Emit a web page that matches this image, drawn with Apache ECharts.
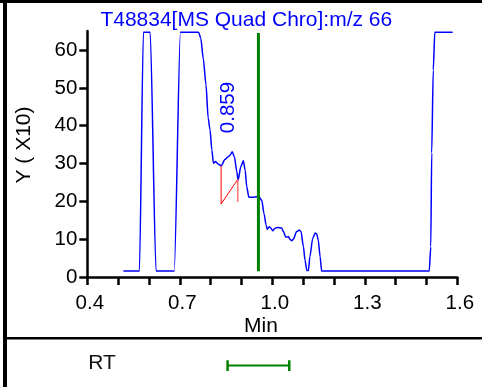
<!DOCTYPE html>
<html>
<head>
<meta charset="utf-8">
<script src="https://cdn.jsdelivr.net/npm/echarts@6/dist/echarts.min.js"></script>
<style>
  html, body { margin: 0; padding: 0; background: #fff; }
  #chart { width: 482px; height: 387px; }
</style>
</head>
<body>
<div id="chart"></div>
<script>
// Extracted ion chromatogram, m/z 66 (intensity in units of 10 counts)
const retentionTime = [
  0.517, 0.569, 0.582, 0.604, 0.623, 0.682, 0.702, 0.761, 0.768, 0.776,
  0.785, 0.792, 0.798, 0.804, 0.809, 0.816, 0.824, 0.834, 0.847, 0.857,
  0.863, 0.870, 0.877, 0.885, 0.889, 0.898, 0.906, 0.912, 0.917, 0.924,
  0.938, 0.949, 0.957, 0.966, 0.973, 0.980, 0.984, 0.990, 0.996, 1.001,
  1.009, 1.020, 1.031, 1.036, 1.044, 1.052, 1.057, 1.063, 1.068, 1.079,
  1.088, 1.093, 1.101, 1.106, 1.112, 1.117, 1.122, 1.131, 1.139, 1.144,
  1.149, 1.155, 1.160, 1.509, 1.514, 1.517, 1.522, 1.527, 1.585
];
const intensity = [
  1.6, 1.6, 64.7, 64.7, 1.6, 1.6, 64.7, 64.7, 63.1, 57.8,
  50.8, 42.0, 38.9, 33.6, 30.1, 30.5, 29.9, 29.4, 31.1, 31.8,
  32.2, 33.1, 31.8, 27.8, 25.6, 29.2, 30.7, 28.3, 23.9, 21.1,
  21.1, 21.2, 21.2, 20.2, 16.8, 13.7, 12.6, 13.3, 12.9, 12.2,
  12.9, 13.1, 12.9, 12.0, 10.5, 10.7, 10.0, 9.6, 10.0, 12.0,
  12.4, 12.0, 8.0, 4.5, 1.7, 1.7, 5.4, 10.2, 11.6, 11.4,
  9.8, 5.4, 1.6, 1.6, 8.0, 32.8, 54.7, 64.7, 64.7
];

// Integration: peak start / end on the trace, and the baseline under the peak
const peakStart = [0.834, 29.4];
const baselineStart = [0.834, 19.3];
const baselineEnd = [0.888, 25.8];
const peakEndFoot = [0.888, 19.9];
const peakApexRT = [0.859];

// Expected retention time and its window
const expectedRT = [0.955];
const rtWindow = [0.855, 1.055];
const markerRange = [1.5, 64.5];

// Axis ticks and labels
const xTicks = [0.4, 0.5, 0.6, 0.7, 0.8, 0.9, 1.0, 1.1, 1.2, 1.3, 1.4, 1.5, 1.6];
const xTickLabels = [0.4, 0.7, 1.0, 1.3, 1.6];
const yTickLabels = [0, 10, 20, 30, 40, 50, 60];

const FONT = "'Liberation Sans', Arial, Helvetica, sans-serif";
const BLUE = '#0000ff';
const GREEN = '#008000';

const trace = retentionTime.map((t, i) => [t, intensity[i]]);

const chart = echarts.init(document.getElementById('chart'), null, { renderer: 'canvas' });

const axisTextStyle = { color: '#000', fontSize: 20.5, fontFamily: FONT };

chart.setOption({
  animation: false,
  backgroundColor: '#fff',
  grid: [
    { left: 87.3, right: 24.7, top: 31.1, bottom: 110, containLabel: false },
    { left: 87.3, right: 24.7, top: 344, height: 46.6, containLabel: false }
  ],
  xAxis: [
    {
      gridIndex: 0, type: 'value', min: 0.4, max: 1.6, interval: 0.1,
      axisLine: { show: true, onZero: false, lineStyle: { color: '#000', width: 2.5 } },
      axisTick: { show: true, length: 8, customValues: xTicks, lineStyle: { color: '#000', width: 2.5 } },
      axisLabel: {
        show: true, customValues: xTickLabels, margin: 16, padding: [0, 0, 0, 5],
        formatter: v => v.toFixed(1), ...axisTextStyle
      },
      splitLine: { show: false }
    },
    { gridIndex: 1, type: 'value', min: 0.4, max: 1.6, show: false }
  ],
  yAxis: [
    {
      gridIndex: 0, type: 'value', min: 0, max: 65,
      axisLine: { show: true, onZero: false, lineStyle: { color: '#000', width: 2.5 } },
      axisTick: { show: true, length: 8, customValues: yTickLabels, lineStyle: { color: '#000', width: 2.5 } },
      axisLabel: {
        show: true, customValues: yTickLabels, margin: 10, padding: [6, 0, 0, 0],
        formatter: v => String(v), ...axisTextStyle
      },
      splitLine: { show: false }
    },
    { gridIndex: 1, type: 'value', min: -1, max: 1, show: false }
  ],
  series: [
    {
      name: 'm/z 66', type: 'line', xAxisIndex: 0, yAxisIndex: 0,
      data: trace, showSymbol: false, symbol: 'none',
      smooth: 0.25, smoothMonotone: 'x',
      lineStyle: { color: BLUE, width: 1.5 }, z: 3
    },
    {
      name: 'expected RT', type: 'line', xAxisIndex: 0, yAxisIndex: 0,
      data: [[expectedRT[0], markerRange[0]], [expectedRT[0], markerRange[1]]],
      symbol: 'none', lineStyle: { color: GREEN, width: 3 }, z: 4
    },
    {
      name: 'peak start', type: 'line', xAxisIndex: 0, yAxisIndex: 0,
      data: [peakStart, baselineStart, baselineEnd],
      symbol: 'none', lineStyle: { color: '#ff0000', width: 1 }, z: 5
    },
    {
      name: 'peak end', type: 'line', xAxisIndex: 0, yAxisIndex: 0,
      data: [baselineEnd, peakEndFoot],
      symbol: 'none', lineStyle: { color: '#ff7070', width: 1.5 }, z: 5
    },
    {
      name: 'apex', type: 'scatter', xAxisIndex: 0, yAxisIndex: 0,
      data: [[peakApexRT[0], 44.8]], symbolSize: 0,
      itemStyle: { opacity: 1 },
      label: {
        show: true, position: 'inside', rotate: 90, opacity: 1,
        formatter: p => p.value[0].toFixed(3),
        color: BLUE, fontSize: 20.5, fontFamily: FONT
      },
      z: 6
    },
    {
      name: 'RT window', type: 'line', xAxisIndex: 1, yAxisIndex: 1,
      data: [[rtWindow[0], 0], [rtWindow[1], 0]],
      symbol: 'none', lineStyle: { color: GREEN, width: 2 }
    },
    {
      name: 'RT window start', type: 'line', xAxisIndex: 1, yAxisIndex: 1,
      data: [[rtWindow[0], -0.25], [rtWindow[0], 0.25]],
      symbol: 'none', lineStyle: { color: GREEN, width: 2.5 }
    },
    {
      name: 'RT window end', type: 'line', xAxisIndex: 1, yAxisIndex: 1,
      data: [[rtWindow[1], -0.25], [rtWindow[1], 0.25]],
      symbol: 'none', lineStyle: { color: GREEN, width: 2.5 }
    }
  ],
  graphic: [
    // panel frame
    { type: 'rect', shape: { x: 0, y: 0, width: 482, height: 3 }, style: { fill: '#000' }, silent: true },
    { type: 'rect', shape: { x: 3, y: 0, width: 4, height: 387 }, style: { fill: '#000' }, silent: true },
    { type: 'rect', shape: { x: 3, y: 337, width: 479, height: 2.5 }, style: { fill: '#000' }, silent: true },
    {
      type: 'text', x: 246.3, y: 20,
      style: { text: 'T48834[MS Quad Chro]:m/z 66', fill: BLUE, font: '21px ' + FONT, textAlign: 'center', textVerticalAlign: 'middle' }
    },
    {
      type: 'text', x: 24.5, y: 145, rotation: Math.PI / 2,
      style: { text: 'Y ( X10)', fill: '#000', font: '21px ' + FONT, textAlign: 'center', textVerticalAlign: 'middle' }
    },
    {
      type: 'text', x: 261, y: 326.5,
      style: { text: 'Min', fill: '#000', font: '21px ' + FONT, textAlign: 'center', textVerticalAlign: 'middle' }
    },
    {
      type: 'text', x: 102, y: 363.5,
      style: { text: 'RT', fill: '#111', font: '21px ' + FONT, textAlign: 'center', textVerticalAlign: 'middle' }
    }
  ]
});
</script>
</body>
</html>
